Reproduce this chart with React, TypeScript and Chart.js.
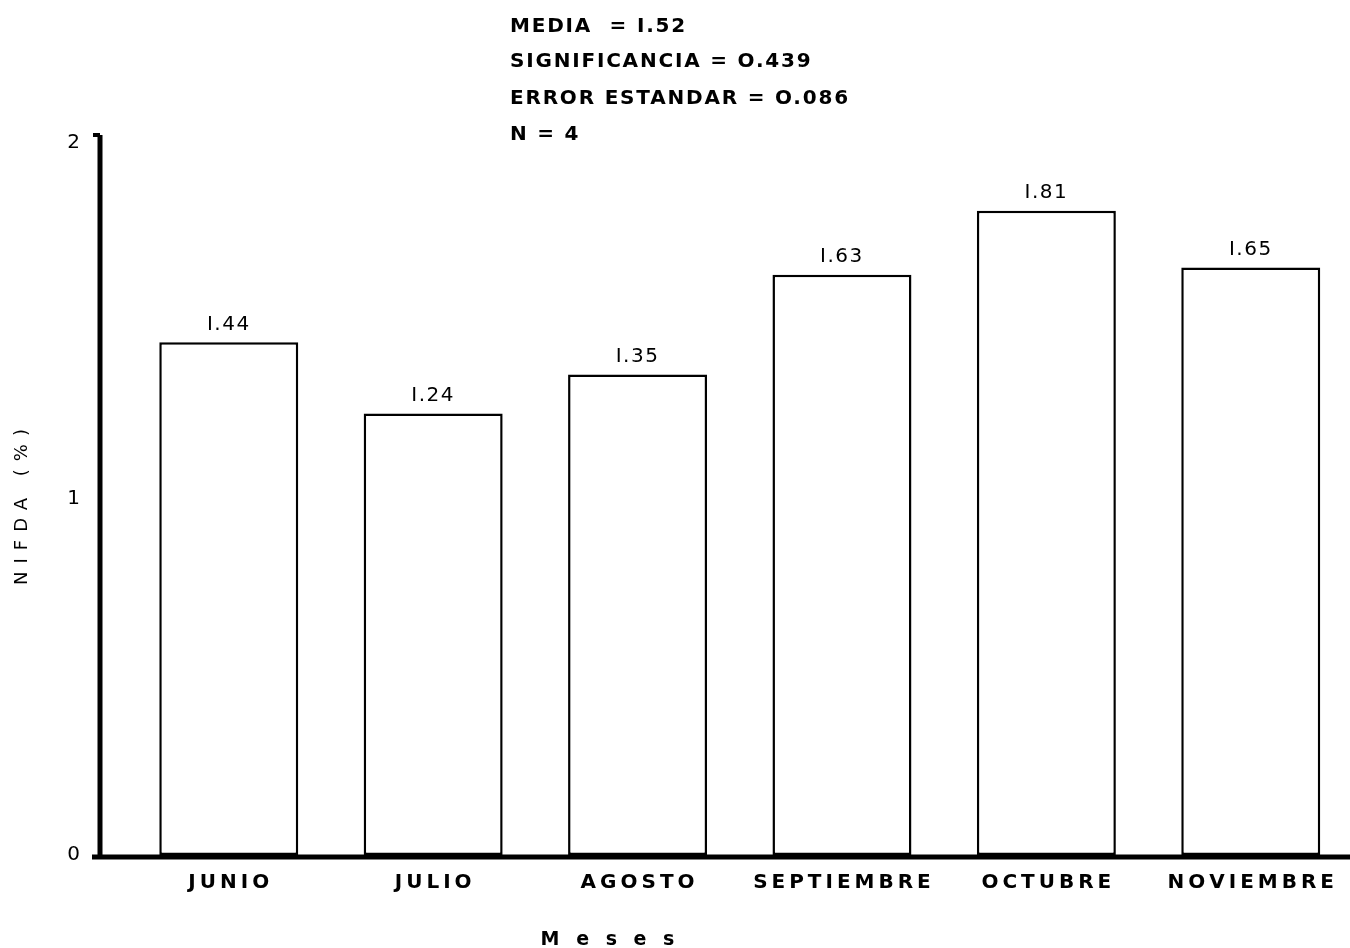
import React, { useEffect, useRef } from "react";
import { Chart, registerables } from "chart.js";

Chart.register(...registerables);

const months = ["JUNIO", "JULIO", "AGOSTO", "SEPTIEMBRE", "OCTUBRE", "NOVIEMBRE"];
const nifda = [1.44, 1.24, 1.35, 1.63, 1.81, 1.65];
const valueLabels = ["I.44", "I.24", "I.35", "I.63", "I.81", "I.65"];
const yTicks = [0, 1, 2];
const statsLines = ["MEDIA  = I.52", "SIGNIFICANCIA = O.439", "ERROR ESTANDAR = O.086", "N = 4"];
const xTitle = "M e s e s";
const yTitle = "NIFDA (%)";

const FONT = "'DejaVu Sans', 'Liberation Sans', sans-serif";

export default function App() {
  const ref = useRef<HTMLCanvasElement | null>(null);

  useEffect(() => {
    if (!ref.current) return;

    const overlay = {
      id: "overlay",
      afterDatasetsDraw(chart: any) {
        const ctx = chart.ctx;
        const meta = chart.getDatasetMeta(0);
        const area = chart.chartArea;
        ctx.save();
        ctx.fillStyle = "#000";
        // value labels above bars
        ctx.font = `20px ${FONT}`;
        (ctx as any).letterSpacing = "1.5px";
        ctx.textAlign = "center";
        ctx.textBaseline = "bottom";
        meta.data.forEach((bar: any, i: number) => {
          ctx.fillText(valueLabels[i], bar.x, bar.y - 8);
        });
        // stats block
        ctx.textAlign = "left";
        ctx.textBaseline = "middle";
        ctx.font = `bold 20px ${FONT}`;
        (ctx as any).letterSpacing = "1.8px";
        const ys = [27, 62, 99, 135];
        statsLines.forEach((s, i) => ctx.fillText(s, 510, ys[i]));
        // x title
        ctx.textAlign = "center";
        ctx.font = `bold 19px ${FONT}`;
        (ctx as any).letterSpacing = "5px";
        ctx.fillText(xTitle, 610, 940);
        // y title
        ctx.save();
        ctx.translate(22, 503);
        ctx.rotate(-Math.PI / 2);
        ctx.font = `18px ${FONT}`;
        (ctx as any).letterSpacing = "8px";
        ctx.fillText(yTitle, 0, 0);
        ctx.restore();
        (ctx as any).letterSpacing = "0px";
        // thick axes
        ctx.strokeStyle = "#000";
        ctx.lineWidth = 5;
        ctx.beginPath();
        ctx.moveTo(area.left, area.top - 8);
        ctx.lineTo(area.left, area.bottom + 2);
        ctx.moveTo(area.left - 8, area.bottom + 2);
        ctx.lineTo(chart.width, area.bottom + 2);
        ctx.stroke();
        ctx.lineWidth = 4;
        ctx.beginPath();
        ctx.moveTo(area.left - 7, area.top - 8);
        ctx.lineTo(area.left, area.top - 8);
        ctx.stroke();
        ctx.restore();
      },
    };

    const chart = new Chart(ref.current, {
      type: "bar",
      data: {
        datasets: [
          {
            data: nifda.map((v, i) => ({ x: i, y: v })),
            backgroundColor: "#ffffff",
            borderColor: "#000000",
            borderWidth: 2.5,
            borderSkipped: false,
            barPercentage: 0.68,
            categoryPercentage: 1,
          },
        ],
      },
      options: {
        animation: false,
        responsive: true,
        maintainAspectRatio: false,
        layout: { padding: { top: 143, left: 0, right: 0, bottom: 0 } },
        plugins: {
          legend: { display: false },
          tooltip: { enabled: false },
        },
        scales: {
          x: {
            type: "linear",
            offset: false,
            min: -0.63,
            max: 5.45,
            afterBuildTicks: (axis: any) => {
              axis.ticks = months.map((_, i) => ({ value: i }));
            },
            afterFit: (axis: any) => {
              axis.height = 93;
            },
            grid: { display: false, drawTicks: false, offset: false },
            border: { display: false },
            ticks: {
              autoSkip: false,
              maxRotation: 0,
              padding: 16,
              color: "#000",
              font: { family: FONT, size: 20, weight: "bold" },
              callback: (v: any) => {
                const s = months[Math.round(v)] ?? "";
                return s.split("").join("\u2009");
              },
            },
          },
          y: {
            min: 0,
            max: 2,
            afterBuildTicks: (axis: any) => {
              axis.ticks = yTicks.map((v) => ({ value: v }));
            },
            afterFit: (axis: any) => {
              axis.width = 100;
            },
            grid: { display: false, drawTicks: false },
            border: { display: false },
            ticks: {
              padding: 20,
              color: "#000",
              font: { family: FONT, size: 20 },
              callback: (v: any) => String(v),
            },
          },
        },
      },
      plugins: [overlay],
    });

    return () => chart.destroy();
  }, []);

  return (
    <div style={{ position: "fixed", left: 0, top: 0, width: 1350, height: 948, background: "#fff" }}>
      <canvas ref={ref} />
    </div>
  );
}
